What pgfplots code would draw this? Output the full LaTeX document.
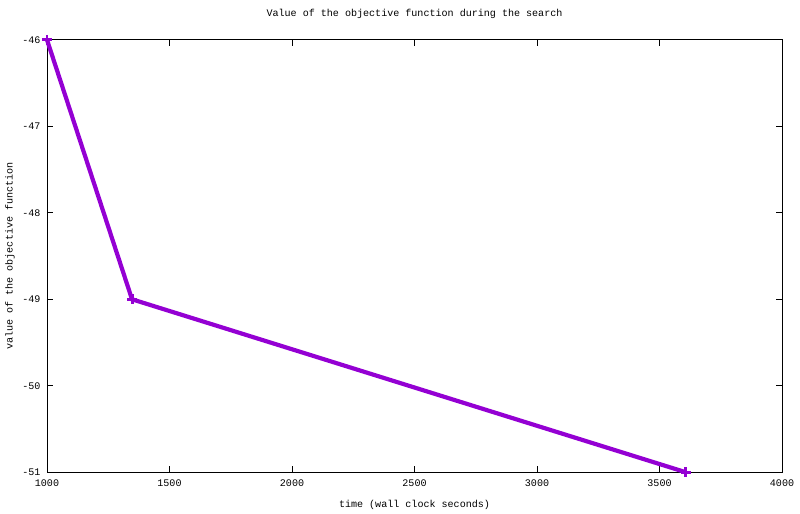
\documentclass[border=0pt]{standalone}
\usepackage{fontspec}
\setmainfont{Liberation Mono}
\usepackage{pgfplots}
\pgfplotsset{compat=1.18}
\definecolor{gpviolet}{RGB}{148,0,211}
\begin{document}
\fontsize{10.1}{12}\selectfont
\begin{tikzpicture}
\useasboundingbox (0,0) rectangle (800bp,514bp);
\begin{axis}[
  at={(47bp,41.7bp)}, anchor=south west,
  width=735bp, height=432.5bp, scale only axis,
  xmin=1000, xmax=4000, ymin=-51, ymax=-46,
  xtick={1000,1500,...,4000}, ytick={-51,-50,...,-46},
  tick align=inside, major tick length=6bp,
  axis line style={black, line width=0.9pt},
  every tick/.style={black, line width=0.8pt},
  tick label style={font=\fontsize{10.1}{12}\selectfont},
  /pgf/number format/assume math mode=true,
  /pgf/number format/1000 sep={},
  xticklabel style={yshift=-4bp},
  yticklabel style={xshift=-3bp},
  title={Value of the objective function during the search},
  title style={at={(axis description cs:0.5,1.0458)}, anchor=center, font=\fontsize{10.1}{12}\selectfont},
  xlabel={time (wall clock seconds)},
  xlabel style={at={(axis description cs:0.5,-0.0756)}, anchor=center, font=\fontsize{10.1}{12}\selectfont},
  ylabel={value of the objective function},
  ylabel style={at={(axis description cs:-0.0503,0.5)}, anchor=center, rotate=0, font=\fontsize{10.1}{12}\selectfont},
  clip=false,
]
\addplot[color=gpviolet, line width=4.2pt, mark=+, mark size=5bp, mark options={line width=3pt}]
coordinates {(1000,-46) (1347,-49) (3608,-51)};
\end{axis}
\end{tikzpicture}
\end{document}
